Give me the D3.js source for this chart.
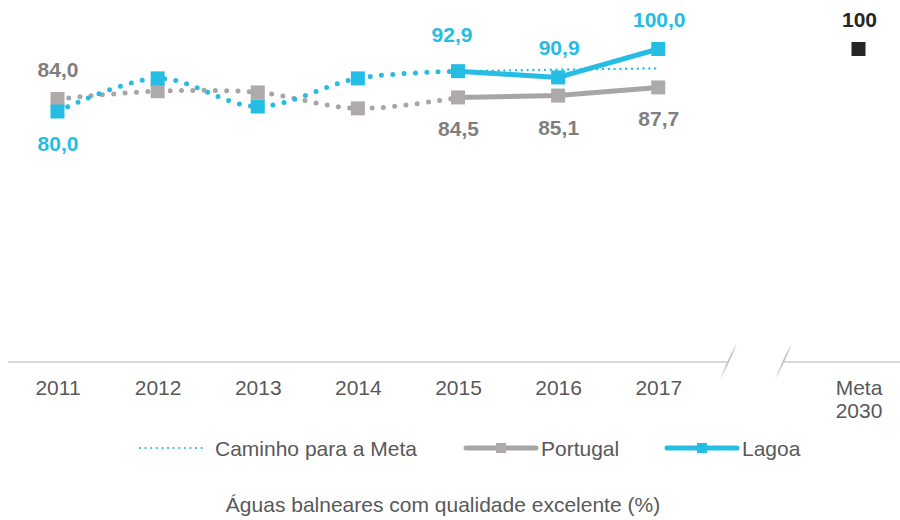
<!DOCTYPE html>
<html>
<head>
<meta charset="utf-8">
<script src="https://cdn.jsdelivr.net/npm/d3@7"></script>
<style>
  html, body { margin: 0; padding: 0; background: #ffffff; }
  svg { display: block; font-family: "Liberation Sans", Arial, sans-serif; }
</style>
</head>
<body>
<svg id="chart" width="900" height="520"></svg>
<script>
// Anos e valores (%) de águas balneares com qualidade excelente
const years = ["2011", "2012", "2013", "2014", "2015", "2016", "2017"];
const lagoa = [80.0, 90.6, 81.6, 90.6, 92.9, 90.9, 100.0];
const portugal = [84.0, 86.5, 86.1, 81.0, 84.5, 85.1, 87.7];
const caminhoYears = ["2015", "2016", "2017"];
const caminho = [92.9, 93.4, 93.8];
const metaLabel = ["Meta", "2030"];
const metaValue = [100];
const labeledYears = ["2011", "2015", "2016", "2017"];
const legendNames = ["Caminho para a Meta", "Portugal", "Lagoa"];
const chartTitle = "Águas balneares com qualidade excelente (%)";

const CYAN = "#25bde3";
const GREY_LINE = "#a6a6a6";
const GREY_MARK = "#aeaaaa";
const GREY_TEXT = "#7f7f7f";
const AXIS_TEXT = "#595959";
const META_COL = "#262626";
const FS = 21;

const svg = d3.select("#chart");

// slot index: years 0..6, break at 7, meta at 8
const slot = d => d === "Meta" ? 8 : years.indexOf(d);
const x = d3.scaleLinear().domain([0, 8]).range([57.5, 858.5]);
const y = d3.scaleLinear().domain([0, 100]).range([361.5, 49]);

const fmt = v => d3.format(".1f")(v).replace(".", ",");

// axis baseline with a break before the meta column
const axisY = y(0) + 0.5;
const breakL = x(6.7), breakR = x(7.25);
svg.append("line").attr("x1", 8).attr("x2", breakL).attr("y1", axisY).attr("y2", axisY)
  .attr("stroke", "#d9d9d9").attr("stroke-width", 2);
svg.append("line").attr("x1", breakR).attr("x2", 900).attr("y1", axisY).attr("y2", axisY)
  .attr("stroke", "#d9d9d9").attr("stroke-width", 2);

const defs = svg.append("defs");
const grad = defs.append("linearGradient").attr("id", "breakGrad")
  .attr("x1", "0").attr("y1", "1").attr("x2", "0").attr("y2", "0");
grad.append("stop").attr("offset", "0%").attr("stop-color", "#bfbfbf").attr("stop-opacity", 0);
grad.append("stop").attr("offset", "40%").attr("stop-color", "#bfbfbf").attr("stop-opacity", 1);
grad.append("stop").attr("offset", "70%").attr("stop-color", "#bfbfbf").attr("stop-opacity", 1);
grad.append("stop").attr("offset", "100%").attr("stop-color", "#bfbfbf").attr("stop-opacity", 0);
[breakL, breakR].forEach(bx => {
  svg.append("line")
    .attr("x1", bx - 8.5).attr("y1", axisY + 18)
    .attr("x2", bx + 8.5).attr("y2", axisY - 19)
    .attr("stroke", "url(#breakGrad)").attr("stroke-width", 1.6);
});

// x axis labels
const axis = d3.axisBottom(x)
  .tickValues([0, 1, 2, 3, 4, 5, 6, 8])
  .tickSize(0).tickPadding(0)
  .tickFormat(i => i === 8 ? "" : years[i]);
const gAxis = svg.append("g").attr("transform", `translate(0,${axisY})`).call(axis);
gAxis.select(".domain").remove();
gAxis.selectAll("text")
  .attr("y", 33).attr("dy", null)
  .attr("font-family", "Liberation Sans, Arial, sans-serif")
  .attr("font-size", FS).attr("fill", AXIS_TEXT);
const metaTxt = gAxis.selectAll(".tick").filter(i => i === 8).select("text");
metaLabel.forEach((t, k) => {
  metaTxt.append("tspan").attr("x", 0).attr("y", 33 + k * 23).text(t);
});

// dotted smoothed history (2011-2015) and solid lines (2015-2017)
const pts = arr => arr.map((v, i) => [x(i), y(v)]);
const smooth = d3.line().curve(d3.curveCatmullRom.alpha(0.5));
const straight = d3.line();

function drawSeries(vals, lineCol) {
  const p = pts(vals);
  svg.append("path").attr("d", smooth(p.slice(0, 5)))
    .attr("fill", "none").attr("stroke", lineCol).attr("stroke-width", 5)
    .attr("stroke-linecap", "round").attr("stroke-dasharray", "0 11.3");
  svg.append("path").attr("d", straight(p.slice(4)))
    .attr("fill", "none").attr("stroke", lineCol).attr("stroke-width", 5)
    .attr("stroke-linejoin", "round");
}
drawSeries(portugal, GREY_LINE);

// path to the target
svg.append("path")
  .attr("d", straight(caminho.map((v, i) => [x(slot(caminhoYears[i])), y(v)])))
  .attr("fill", "none").attr("stroke", CYAN).attr("stroke-width", 2.4)
  .attr("stroke-linecap", "round").attr("stroke-dasharray", "0 5.8");

drawSeries(lagoa, CYAN);

function drawMarkers(vals, col) {
  svg.append("g").selectAll("rect").data(vals).join("rect")
    .attr("x", (d, i) => x(i) - 7).attr("y", d => y(d) - 7)
    .attr("width", 14).attr("height", 14).attr("fill", col);
}
drawMarkers(portugal, GREY_MARK);
drawMarkers(lagoa, CYAN);

// meta marker
svg.append("g").selectAll("rect").data(metaValue).join("rect")
  .attr("x", x(8) - 7).attr("y", d => y(d) - 7)
  .attr("width", 14).attr("height", 14).attr("fill", META_COL);
svg.append("g").selectAll("text").data(metaValue).join("text")
  .attr("x", x(8) + 1).attr("y", d => y(d) - 22)
  .attr("text-anchor", "middle").attr("font-size", FS).attr("font-weight", "bold")
  .attr("fill", META_COL).text(d => d);

// value labels: Portugal above in 2011 and below afterwards; Lagoa the other way round
function valueLabel(xPos, yPos, col, v) {
  svg.append("text").attr("x", xPos).attr("y", yPos)
    .attr("text-anchor", "middle").attr("font-size", FS).attr("font-weight", "bold")
    .attr("fill", col).text(fmt(v));
}
labeledYears.forEach((yr, k) => {
  const i = years.indexOf(yr);
  if (k === 0) {
    valueLabel(x(i) + 0.5, y(portugal[i]) - 22, GREY_TEXT, portugal[i]);
    valueLabel(x(i) + 0.5, y(lagoa[i]) + 39, CYAN, lagoa[i]);
  } else {
    valueLabel(x(i) + 0.5, y(portugal[i]) + 39, GREY_TEXT, portugal[i]);
    valueLabel(x(i) + (i === 4 ? -6 : 1), y(lagoa[i]) + (i === 4 ? -29 : -22), CYAN, lagoa[i]);
  }
});

// legend
const lg = svg.append("g").attr("transform", "translate(0,448)");
lg.append("line").attr("x1", 140).attr("x2", 205).attr("y1", 0).attr("y2", 0)
  .attr("stroke", CYAN).attr("stroke-width", 2.2).attr("stroke-linecap", "round")
  .attr("stroke-dasharray", "0 5.6");
lg.append("text").attr("x", 215).attr("y", 7.5).attr("font-size", FS).attr("fill", AXIS_TEXT)
  .text(legendNames[0]);

[[466, GREY_LINE, GREY_MARK, legendNames[1]], [667, CYAN, CYAN, legendNames[2]]].forEach(([x0, lc, mc, name]) => {
  lg.append("line").attr("x1", x0).attr("x2", x0 + 70).attr("y1", 0).attr("y2", 0)
    .attr("stroke", lc).attr("stroke-width", 5).attr("stroke-linecap", "round");
  lg.append("rect").attr("x", x0 + 30).attr("y", -5).attr("width", 10).attr("height", 10).attr("fill", mc);
  lg.append("text").attr("x", x0 + 75).attr("y", 7.5).attr("font-size", FS).attr("fill", AXIS_TEXT)
    .text(name);
});

// title
svg.append("text").attr("x", 443).attr("y", 512).attr("text-anchor", "middle")
  .attr("font-size", FS).attr("fill", AXIS_TEXT).text(chartTitle);
</script>
</body>
</html>
